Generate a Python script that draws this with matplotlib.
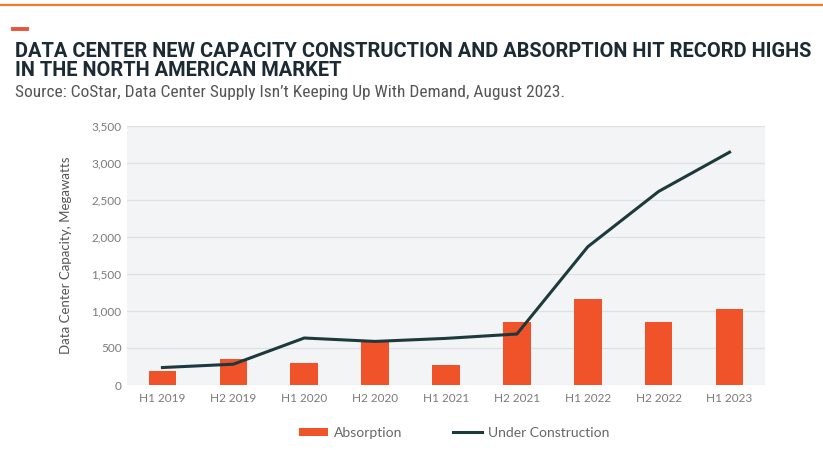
import matplotlib
matplotlib.use("Agg")
import matplotlib.pyplot as plt
from matplotlib import font_manager
from matplotlib.ticker import FuncFormatter, MultipleLocator
from matplotlib.lines import Line2D
from matplotlib.patches import Patch

categories = ["H1 2019", "H2 2019", "H1 2020", "H2 2020", "H1 2021",
              "H2 2021", "H1 2022", "H2 2022", "H1 2023"]
absorption = [190, 350, 300, 590, 265, 857, 1165, 857, 1030]
under_construction = [236, 281, 635, 589, 630, 689, 1868, 2616, 3146]

title_lines = ["DATA CENTER NEW CAPACITY CONSTRUCTION AND ABSORPTION HIT RECORD HIGHS",
               "IN THE NORTH AMERICAN MARKET"]
source_text = "Source: CoStar, Data Center Supply Isn\u2019t Keeping Up With Demand, August 2023."

BAR = "#f0522a"
LINE = "#1c3a3c"
TITLE = "#1b2a33"
GRAY = "#7a7a7a"

names = {f.name for f in font_manager.fontManager.ttflist}
title_family = "Roboto" if "Roboto" in names else "DejaVu Sans"
source_family = "Roboto Condensed" if "Roboto Condensed" in names else title_family
body_family = "Lato" if "Lato" in names else "DejaVu Sans"

plt.rcParams['font.family'] = [body_family, 'DejaVu Sans']

fig = plt.figure(figsize=(8.23, 4.5), dpi=100)
fig.patch.set_facecolor("white")
renderer = fig.canvas.get_renderer()

def fit_text(x, y, s, width_px, size, **kw):
    t = fig.text(x, y, s, fontsize=size, **kw)
    w = t.get_window_extent(renderer=renderer).width
    if w > 0:
        t.set_fontsize(size * width_px / w)
    return t

# top orange rule and small accent
fig.add_artist(Line2D([0, 1], [1 - 5/450, 1 - 5/450], color="#f07a2a", lw=1.6,
                      transform=fig.transFigure))
fig.add_artist(Line2D([13/823, 27/823], [1 - 28.5/450, 1 - 28.5/450], color="#e8533a", lw=2.8,
                      transform=fig.transFigure))

t1 = fit_text(15/823, 1 - 57/450, title_lines[0],
              798, 14.5, family=[title_family, 'DejaVu Sans'], fontweight="bold",
              color=TITLE, ha="left", va="baseline")
fig.text(15/823, 1 - 76/450, title_lines[1],
         fontsize=t1.get_fontsize(), family=[title_family, 'DejaVu Sans'], fontweight="bold",
         color=TITLE, ha="left", va="baseline")
fit_text(15/823, 1 - 97/450, source_text,
         550, 10.5, family=[source_family, 'DejaVu Sans'], color="#555555", ha="left", va="baseline")

ax = fig.add_axes([127/823, 1 - 385/450, (765 - 127)/823, (385 - 126)/450])
ax.set_facecolor("#f2f4f5")
x = list(range(len(categories)))
ax.bar(x, absorption, width=0.39, color=BAR, zorder=2, label="Absorption")
ax.plot(x, under_construction, color=LINE, lw=2.2, zorder=3, label="Under Construction",
        solid_joinstyle="round")
ax.set_xlim(-0.5, len(categories) - 0.5)
ax.set_ylim(0, 3500)
ax.yaxis.set_major_locator(MultipleLocator(500))
ax.yaxis.set_major_formatter(FuncFormatter(lambda v, p: f"{int(v):,}"))
ax.set_xticks(x)
ax.set_xticklabels(categories)
ax.grid(axis="y", color="#dde1e4", lw=0.9, zorder=1)
ax.set_axisbelow(True)
for s in ax.spines.values():
    s.set_visible(False)
ax.tick_params(axis="both", length=0, colors=GRAY, labelsize=8.5)
ax.tick_params(axis="y", pad=4)
ax.tick_params(axis="x", pad=6)
ylab = ax.set_ylabel("Data Center Capacity, Megawatts", fontsize=10, color="#555555", labelpad=14)
h = ylab.get_window_extent(renderer=renderer).height
if h > 0:
    ylab.set_fontsize(10 * 197 / h)

handles = [Patch(facecolor=BAR, edgecolor="none"),
           Line2D([0], [0], color=LINE, lw=2.2)]
fig.legend(handles, ["Absorption", "Under Construction"], loc="center",
           bbox_to_anchor=(454/823, 1 - 433/450), ncol=2, frameon=False,
           fontsize=10, labelcolor="#666666", handlelength=2.1, handleheight=0.55,
           columnspacing=3.6, handletextpad=0.45)

fig.savefig("out.png", dpi=100)
